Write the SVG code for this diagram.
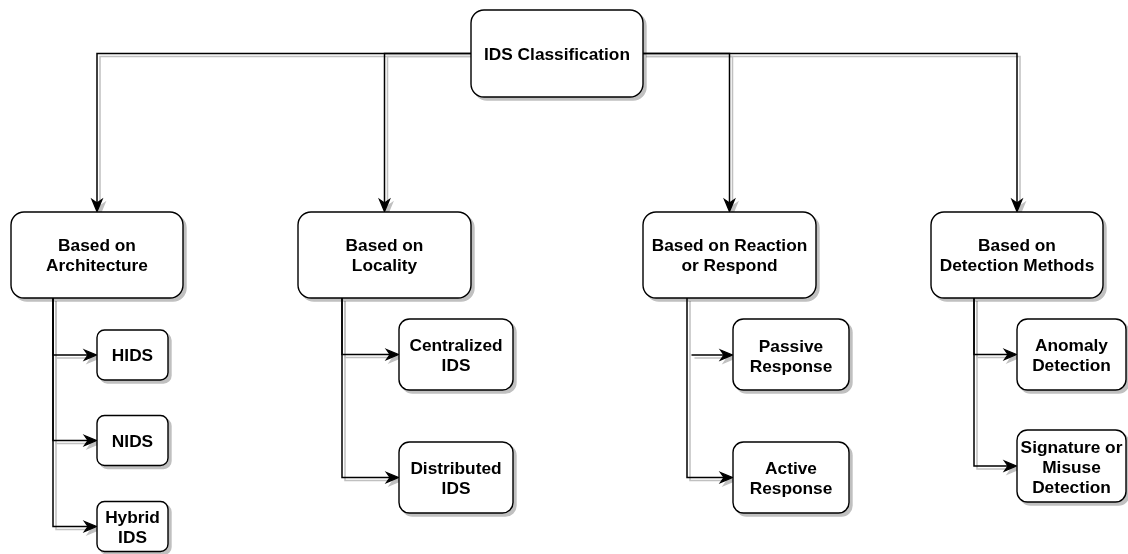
<svg xmlns="http://www.w3.org/2000/svg" width="1128" height="554" viewBox="0 0 1128 554">
  <defs>
    <style>
      .box { fill: #ffffff; stroke: #000000; stroke-width: 1.4; }
      .lbl { font-family: "Liberation Sans", Arial, sans-serif; font-size: 17.3px; font-weight: bold; fill: #000000; text-anchor: middle; }
      .edge { fill: none; stroke: #000000; stroke-width: 1.5; marker-end: url(#arrow); }
      .shadowed { filter: url(#shadow); }
    </style>
    <filter id="shadow" x="-20%" y="-20%" width="140%" height="140%">
      <feGaussianBlur in="SourceAlpha" stdDeviation="0.6" result="b"/>
      <feOffset in="b" dx="3" dy="3" result="o"/>
      <feComponentTransfer in="o" result="s">
        <feFuncA type="linear" slope="0.25"/>
      </feComponentTransfer>
      <feMerge>
        <feMergeNode in="s"/>
        <feMergeNode in="SourceGraphic"/>
      </feMerge>
    </filter>
    <marker id="arrow" markerUnits="userSpaceOnUse" markerWidth="20" markerHeight="16" viewBox="-3 -3 20 16" refX="10.5" refY="5" orient="auto">
      <path d="M0,0 L12,5 L0,10 L3.5,5 Z" fill="#000000" stroke="#000000" stroke-width="1.3"/>
    </marker>
  </defs>

  <!-- connectors -->
  <g id="connectors" class="shadowed">
    <path class="edge" d="M471,53.5 H97 V210"/>
    <path class="edge" d="M471,53.5 H384.5 V210"/>
    <path class="edge" d="M643,53.5 H729.5 V210"/>
    <path class="edge" d="M643,53.5 H1017 V210"/>

    <path class="edge" d="M53,298 V355 H95"/>
    <path class="edge" d="M53,298 V440.5 H95"/>
    <path class="edge" d="M53,298 V526.5 H95"/>

    <path class="edge" d="M342,298 V354.5 H397"/>
    <path class="edge" d="M342,298 V477.5 H397"/>

    <path class="edge" d="M691.5,355 H731"/>
    <path class="edge" d="M687,298 V477.5 H731"/>

    <path class="edge" d="M974,298 V354.5 H1015"/>
    <path class="edge" d="M974,298 V466 H1015"/>
  </g>

  <!-- root -->
  <g id="ids-classification" class="shadowed">
    <rect class="box" x="471" y="10" width="172" height="87" rx="13"/>
    <text class="lbl" x="557" y="59.5">IDS Classification</text>
  </g>

  <!-- categories -->
  <g id="based-on-architecture" class="shadowed">
    <rect class="box" x="11" y="212" width="172" height="86" rx="13"/>
    <text class="lbl" x="97" y="251">Based on</text>
    <text class="lbl" x="97" y="271">Architecture</text>
  </g>
  <g id="based-on-locality" class="shadowed">
    <rect class="box" x="298" y="212" width="173" height="86" rx="13"/>
    <text class="lbl" x="384.5" y="251">Based on</text>
    <text class="lbl" x="384.5" y="271">Locality</text>
  </g>
  <g id="based-on-reaction" class="shadowed">
    <rect class="box" x="643" y="212" width="173" height="86" rx="13"/>
    <text class="lbl" x="729.5" y="251">Based on Reaction</text>
    <text class="lbl" x="729.5" y="271">or Respond</text>
  </g>
  <g id="based-on-detection" class="shadowed">
    <rect class="box" x="931" y="212" width="172" height="86" rx="13"/>
    <text class="lbl" x="1017" y="251">Based on</text>
    <text class="lbl" x="1017" y="271">Detection Methods</text>
  </g>

  <!-- architecture types -->
  <g id="hids" class="shadowed">
    <rect class="box" x="97" y="330" width="71" height="50" rx="7.5"/>
    <text class="lbl" x="132.5" y="361">HIDS</text>
  </g>
  <g id="nids" class="shadowed">
    <rect class="box" x="97" y="415.5" width="71" height="50" rx="7.5"/>
    <text class="lbl" x="132.5" y="446.5">NIDS</text>
  </g>
  <g id="hybrid-ids" class="shadowed">
    <rect class="box" x="97" y="501.5" width="71" height="50" rx="7.5"/>
    <text class="lbl" x="132.5" y="522.5">Hybrid</text>
    <text class="lbl" x="132.5" y="543">IDS</text>
  </g>

  <!-- locality types -->
  <g id="centralized-ids" class="shadowed">
    <rect class="box" x="399" y="319" width="114" height="71" rx="10.5"/>
    <text class="lbl" x="456" y="351">Centralized</text>
    <text class="lbl" x="456" y="371">IDS</text>
  </g>
  <g id="distributed-ids" class="shadowed">
    <rect class="box" x="399" y="442" width="114" height="71" rx="10.5"/>
    <text class="lbl" x="456" y="474">Distributed</text>
    <text class="lbl" x="456" y="494">IDS</text>
  </g>

  <!-- response types -->
  <g id="passive-response" class="shadowed">
    <rect class="box" x="733" y="319" width="116" height="71" rx="10.5"/>
    <text class="lbl" x="791" y="351.5">Passive</text>
    <text class="lbl" x="791" y="371.5">Response</text>
  </g>
  <g id="active-response" class="shadowed">
    <rect class="box" x="733" y="442" width="116" height="71" rx="10.5"/>
    <text class="lbl" x="791" y="474">Active</text>
    <text class="lbl" x="791" y="494">Response</text>
  </g>

  <!-- detection types -->
  <g id="anomaly-detection" class="shadowed">
    <rect class="box" x="1017" y="319" width="109" height="71" rx="10.5"/>
    <text class="lbl" x="1071.5" y="351">Anomaly</text>
    <text class="lbl" x="1071.5" y="371">Detection</text>
  </g>
  <g id="signature-detection" class="shadowed">
    <rect class="box" x="1017" y="430" width="109" height="72" rx="10.5"/>
    <text class="lbl" x="1071.5" y="452.5">Signature or</text>
    <text class="lbl" x="1071.5" y="472.5">Misuse</text>
    <text class="lbl" x="1071.5" y="492.5">Detection</text>
  </g>
</svg>
